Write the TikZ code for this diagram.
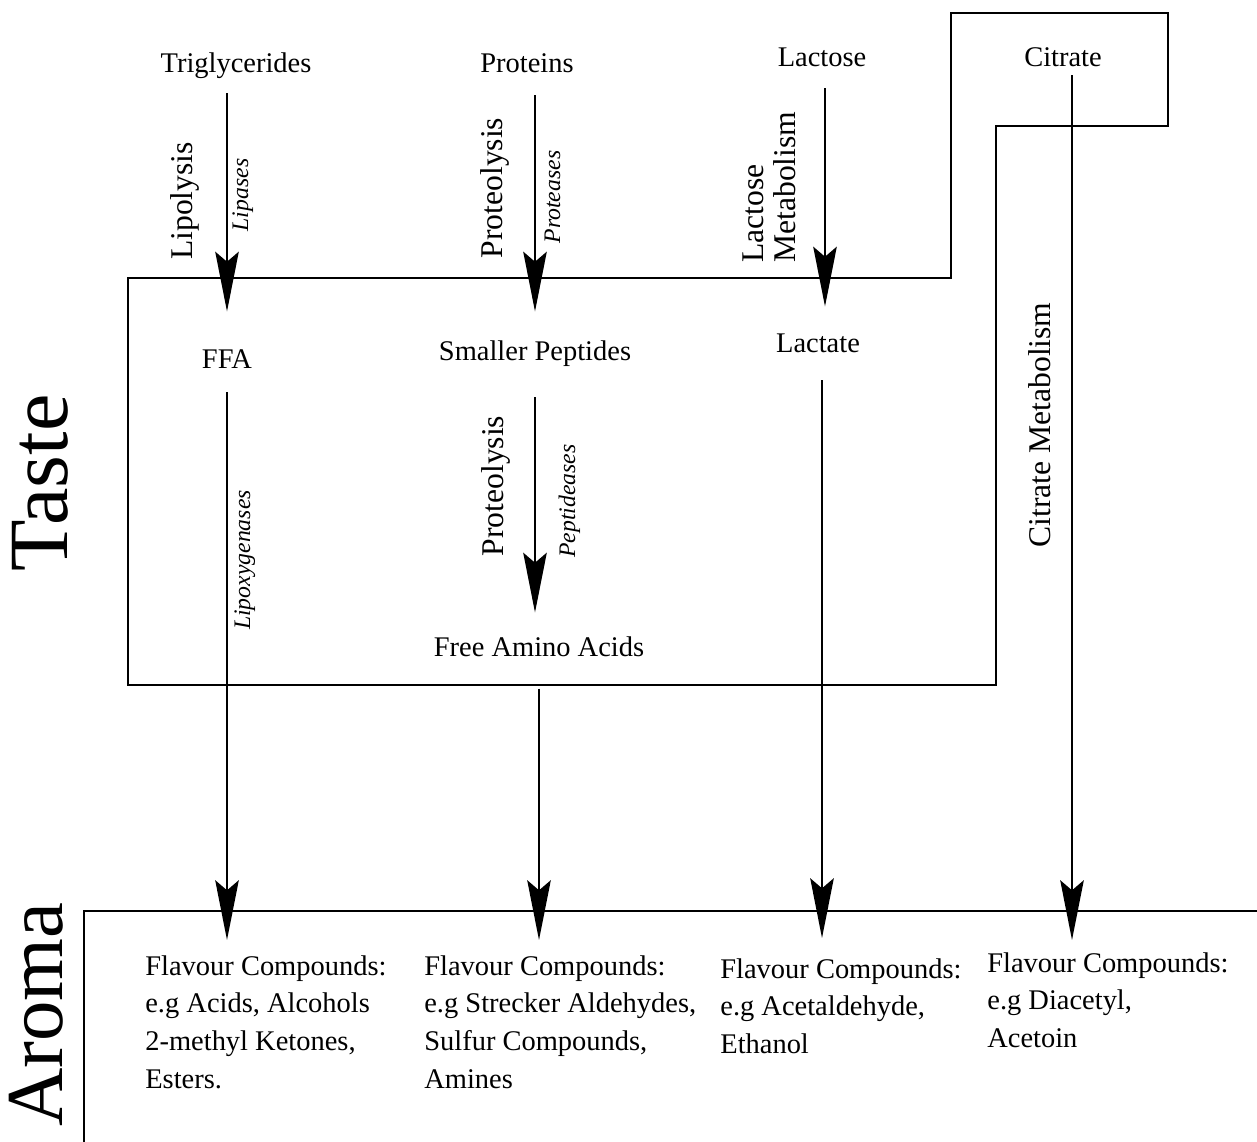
\documentclass[tikz,border=0pt]{standalone}
\usepackage{fontspec}
\setmainfont{Liberation Serif}
\usetikzlibrary{arrows.meta}

\tikzset{
  lbl/.style={anchor=base, inner sep=0pt, text height=11.5pt, text depth=3.5pt, font=\fontsize{16.2}{21.5}\selectfont},
  flav/.style={anchor=north west, inner sep=0pt, align=left, font=\fontsize{16.2}{21.5}\selectfont},
  proc/.style={anchor=base, rotate=90, inner sep=0pt, font=\fontsize{18}{18}\selectfont},
  enz/.style={anchor=base, rotate=90, inner sep=0pt, font=\fontsize{13.5}{16}\selectfont\itshape},
  big/.style={rotate=90, inner sep=0pt, font=\fontsize{48}{48}\selectfont},
  flow/.style={line width=1.1pt, -{Stealth[length=34pt, width=13.4pt, inset=5.7pt]}},
  frame/.style={line width=1.1pt}
}

\begin{document}
\begin{tikzpicture}[x=0.02cm, y=-0.02cm]
  \useasboundingbox (0,0) rectangle (1257,1142);

  % taste and aroma regions
  \draw[frame] (128,278) -- (951,278) -- (951,13) -- (1168,13) -- (1168,126)
     -- (996,126) -- (996,685) -- (128,685) -- cycle;
  \draw[frame] (84,1150) -- (84,911) -- (1265,911);
  \node[big, anchor=base] (taste) at (67,483) {Taste};
  \node[big, anchor=base east, font=\fontsize{46}{46}\selectfont] (aroma) at (62,902) {Aroma};

  % substrates
  \node[lbl] (trig) at (236,73) {Triglycerides};
  \node[lbl] (prot) at (527,73) {Proteins};
  \node[lbl] (lact) at (822,67) {Lactose};
  \node[lbl] (cit) at (1063,67) {Citrate};

  % intermediates
  \node[lbl] (ffa) at (227,368) {FFA};
  \node[lbl] (pep) at (535,360) {Smaller Peptides};
  \node[lbl] (lactate) at (818,352) {Lactate};
  \node[lbl] (faa) at (539,656) {Free Amino Acids};

  % flavour compounds
  \node[flav] (flav1) at (145,955) {Flavour Compounds:\\e.g Acids, Alcohols\\2-methyl Ketones,\\Esters.};
  \node[flav] (flav2) at (424,955) {Flavour Compounds:\\e.g Strecker Aldehydes,\\Sulfur Compounds,\\Amines};
  \node[flav] (flav3) at (720,958) {Flavour Compounds:\\e.g Acetaldehyde,\\Ethanol};
  \node[flav] (flav4) at (987,952) {Flavour Compounds:\\e.g Diacetyl,\\Acetoin};

  % pathway labels
  \node[proc] (lipo) at (192,201) {Lipolysis};
  \node[enz] (lipase) at (248,195) {Lipases};
  \node[proc] (proteo1) at (502,188) {Proteolysis};
  \node[enz] (protease) at (560,197) {Proteases};
  \node[proc, anchor=south west, align=left] (lactmet) at (796,263) {Lactose\\Metabolism};
  \node[proc] (proteo2) at (503,486) {Proteolysis};
  \node[enz] (peptidease) at (575,501) {Peptideases};
  \node[enz] (lipox) at (250,560) {Lipoxygenases};
  \node[proc] (citmet) at (1050,425) {Citrate Metabolism};

  % arrows
  \draw[flow, shorten <=0.28cm, shorten >=0.72cm] (ffa |- trig.south) -- (ffa.north);
  \draw[flow, shorten <=0.32cm, shorten >=0.56cm] (pep |- prot.south) -- (pep.north);
  \draw[flow, shorten <=0.30cm, shorten >=0.50cm] ([xshift=0.06cm]lact.south) -- ([xshift=0.06cm]lact.south |- lactate.north);
  \draw[flow, shorten <=0.04cm, shorten >=0.24cm] ([xshift=0.18cm]cit.south) -- ([xshift=0.18cm]cit.south |- flav4.north);
  \draw[flow, shorten <=0.62cm, shorten >=0.46cm] (pep.south) -- (pep |- faa.north);
  \draw[flow, shorten <=0.36cm, shorten >=0.30cm] (ffa.south) -- (ffa |- flav1.north);
  \draw[flow, shorten <=0.52cm, shorten >=0.30cm] (faa.south) -- (faa |- flav2.north);
  \draw[flow, shorten <=0.44cm, shorten >=0.40cm] (lact |- lactate.south) -- (lact |- flav3.north);
\end{tikzpicture}
\end{document}
